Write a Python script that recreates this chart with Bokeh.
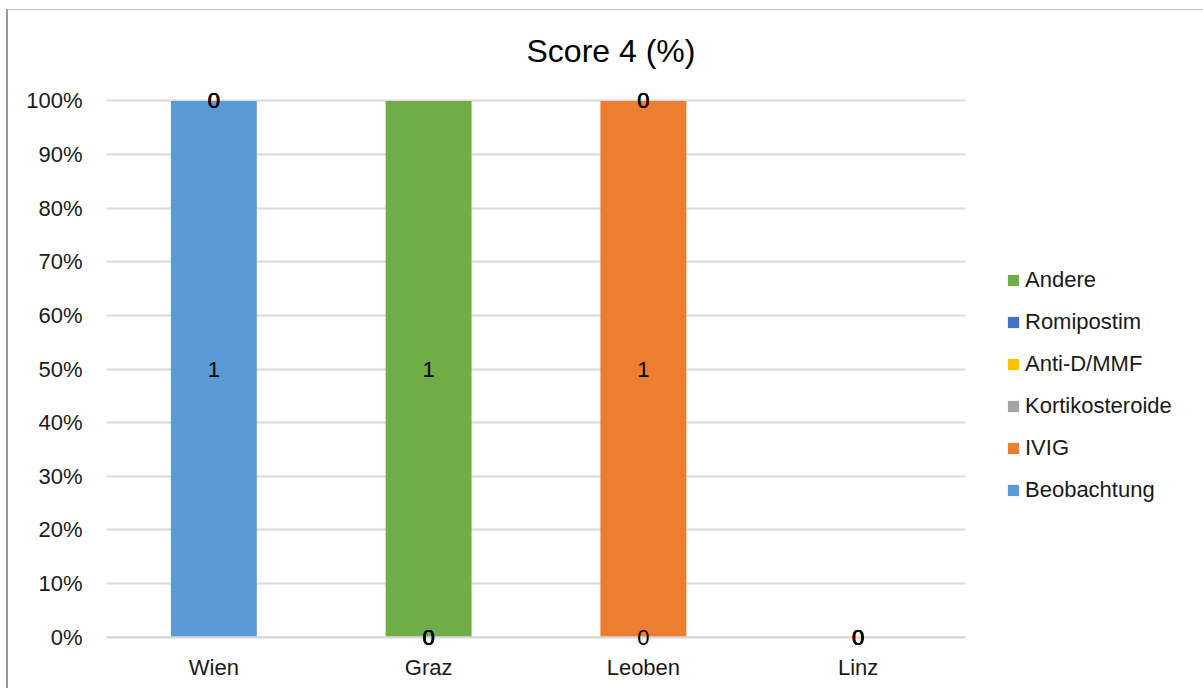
from bokeh.plotting import figure
from bokeh.models import (ColumnDataSource, FactorRange, Range1d, FixedTicker,
                          NumeralTickFormatter, LabelSet, Legend, LegendItem, Span)
from bokeh.core.properties import value
from bokeh.embed import file_html
from bokeh.resources import INLINE

# Number of patients per treatment (Score 4) at each centre
categories = ["Wien", "Graz", "Leoben", "Linz"]
beobachtung = [1, 0, 0, 0]
ivig = [0, 0, 1, 0]
kortikosteroide = [0, 0, 0, 0]
anti_d_mmf = [0, 0, 0, 0]
romipostim = [0, 0, 0, 0]
andere = [0, 1, 0, 0]

series_names = ["Beobachtung", "IVIG", "Kortikosteroide", "Anti-D/MMF", "Romipostim", "Andere"]
series_values = [beobachtung, ivig, kortikosteroide, anti_d_mmf, romipostim, andere]
colors = ["#5B9BD5", "#ED7D31", "#A5A5A5", "#FFC000", "#4472C4", "#70AD47"]

FONT = "Liberation Sans"
TEXT = "#1a1a1a"

# Share of each treatment within a centre (100 % stacked)
totals = [sum(vals[i] for vals in series_values) for i in range(len(categories))]
keys = ["s%d" % k for k in range(len(series_names))]
data = {"cat": categories}
for key, vals in zip(keys, series_values):
    data[key] = [v / t if t else 0.0 for v, t in zip(vals, totals)]
source = ColumnDataSource(data)

p = figure(
    x_range=FactorRange(factors=categories),
    y_range=Range1d(-0.021, 1.025),
    frame_width=859, frame_height=561,
    output_backend="svg", toolbar_location=None,
    min_border_left=98, min_border_right=10,
    min_border_top=77, min_border_bottom=40,
    styles={"margin-left": "6px", "margin-top": "9px",
            "border-left": "2px solid #9a9a9a",
            "border-top": "1px solid #c6c6c6"},
)

renderers = p.vbar_stack(keys, x="cat", width=0.4, color=colors, source=source,
                         line_color=None)

# Baseline drawn over the bars
p.add_layout(Span(location=0, dimension="width", line_color="#d9d9d9", line_width=2))

# Data labels at the middle of every segment
lx, ly, lt = [], [], []
for i, cat in enumerate(categories):
    base = 0.0
    for key, vals in zip(keys, series_values):
        h = data[key][i]
        lx.append(cat)
        ly.append(base + h / 2)
        lt.append(str(vals[i]))
        base += h
labels = LabelSet(x="x", y="y", text="text",
                  source=ColumnDataSource(dict(x=lx, y=ly, text=lt)),
                  text_align="center", text_baseline="middle",
                  text_font_size="22px", text_font=value(FONT), text_color="#000000")
p.add_layout(labels)

# Legend, listed top-down in reverse stacking order
items = [LegendItem(label=name, renderers=[r])
         for name, r in zip(series_names, renderers)][::-1]
legend = Legend(items=items, location=(41, 145),
                glyph_width=14, glyph_height=14, label_height=22,
                spacing=16, padding=0, margin=0, label_standoff=5,
                label_text_font=FONT, label_text_font_size="22px",
                label_text_color=TEXT, border_line_color=None,
                background_fill_alpha=0)
p.add_layout(legend, "right")

# Title
p.title.text = "Score 4 (%)"
p.title.align = "left"
p.title.offset = 420
p.title.standoff = 38
p.title.text_font = FONT
p.title.text_font_size = "32px"
p.title.text_font_style = "normal"
p.title.text_color = "#000000"

# Axes and grid
p.yaxis.ticker = FixedTicker(ticks=[i / 10 for i in range(11)])
p.yaxis.formatter = NumeralTickFormatter(format="0%")
p.yaxis.axis_line_color = None
p.yaxis.major_tick_line_color = None
p.yaxis.minor_tick_line_color = None
p.yaxis.major_label_standoff = 18
p.yaxis.major_label_text_font = FONT
p.yaxis.major_label_text_font_size = "22px"
p.yaxis.major_label_text_color = TEXT

p.xaxis.axis_line_color = None
p.xaxis.major_tick_line_color = None
p.xaxis.minor_tick_line_color = None
p.xaxis.major_label_standoff = 0
p.xaxis.major_label_text_font = FONT
p.xaxis.major_label_text_font_size = "22px"
p.xaxis.major_label_text_color = TEXT

p.xgrid.visible = False
p.ygrid.grid_line_color = "#d9d9d9"
p.ygrid.grid_line_width = 2
p.outline_line_color = None

open("out.html", "w").write(file_html(p, INLINE))
